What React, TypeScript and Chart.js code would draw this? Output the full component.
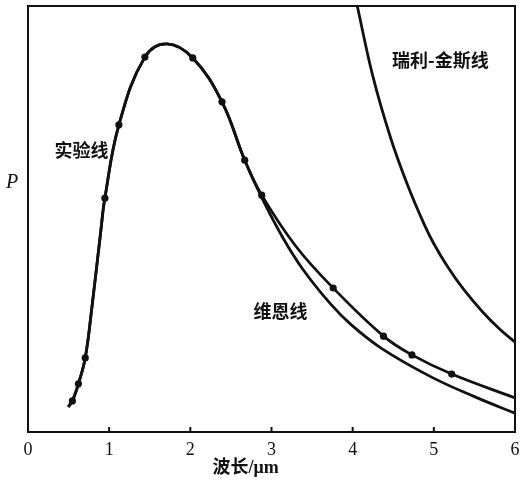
import React, { useEffect, useRef } from "react";
import { Chart, registerables } from "chart.js";
Chart.register(...registerables);

// x-axis tick values (wavelength, μm)
const xTicks = [0, 1, 2, 3, 4, 5, 6];
// experimental curve (实验线) knots
const expX = [0.495, 0.547, 0.621, 0.705, 0.779, 0.898, 0.947, 1.12, 1.44, 1.71, 2.03, 2.39, 2.67, 2.88, 3.3, 3.76, 4.38, 4.73, 5.22, 6.0];
const expY = [5.9, 7.3, 11.3, 17.4, 27.9, 47.4, 54.9, 72.1, 88.0, 91.1, 87.8, 77.5, 63.8, 55.6, 43.6, 33.8, 22.5, 18.1, 13.6, 8.0];
// measured points on the experimental curve
const dotX = [0.547, 0.621, 0.705, 0.947, 1.12, 1.44, 2.03, 2.39, 2.67, 2.88, 3.76, 4.38, 4.73, 5.22];
const dotY = [7.3, 11.3, 17.4, 54.9, 72.1, 88.0, 87.8, 77.5, 63.8, 55.6, 33.8, 22.5, 18.1, 13.6];
// Wien curve (维恩线)
const wienX = [0.495, 0.547, 0.621, 0.705, 0.779, 0.898, 0.947, 1.12, 1.44, 1.71, 2.03, 2.39, 2.67, 2.88, 3.14, 3.39, 3.73, 3.98, 4.35, 4.96, 5.5, 6.0];
const wienY = [5.9, 7.3, 11.3, 17.4, 27.9, 47.4, 54.9, 72.1, 88.0, 91.1, 87.8, 77.5, 63.8, 55.0, 45.6, 38.1, 30.0, 25.2, 19.7, 13.0, 8.3, 4.4];
// Rayleigh-Jeans curve (瑞利-金斯线)
const rjX = [4.0, 4.05, 4.25, 4.47, 4.68, 4.88, 5.0, 5.17, 5.37, 5.61, 5.82, 6.0];
const rjY = [105, 100.6, 83.4, 68.9, 57.8, 48.8, 44.2, 38.8, 33.4, 28.0, 24.0, 21.1];

const labels = [
  { text: "实验线", x: 0.66, y: 66.2 },
  { text: "瑞利-金斯线", x: 5.08, y: 87.3 },
  { text: "维恩线", x: 3.11, y: 28.4 },
];
const xTitle = "波长/μm";
const yTitle = "P";

const zip = (xs: number[], ys: number[]) => xs.map((x, i) => ({ x, y: ys[i] }));

const decor = {
  id: "decor",
  afterDraw(chart: any) {
    const { ctx, chartArea: a, scales } = chart;
    const xs = scales.x;
    const ys = scales.y;
    ctx.save();
    ctx.strokeStyle = "#111";
    ctx.lineWidth = 2;
    ctx.strokeRect(a.left, a.top, a.right - a.left, a.bottom - a.top);
    // inward tick marks
    xTicks.slice(1, -1).forEach((v) => {
      const px = xs.getPixelForValue(v);
      ctx.beginPath();
      ctx.moveTo(px, a.bottom);
      ctx.lineTo(px, a.bottom - 5);
      ctx.stroke();
    });
    ctx.fillStyle = "#111";
    ctx.textAlign = "center";
    ctx.textBaseline = "middle";
    ctx.font = "bold 18px 'Noto Sans CJK SC'";
    labels.forEach((l) => {
      ctx.fillText(l.text, xs.getPixelForValue(l.x), ys.getPixelForValue(l.y));
    });
    ctx.font = "italic 20px 'Liberation Serif'";
    ctx.fillText(yTitle, a.left - 16, ys.getPixelForValue(58.5));
    ctx.font = "bold 18px 'Liberation Serif', 'Noto Sans CJK SC'";
    ctx.fillText(xTitle, xs.getPixelForValue(2.68), a.bottom + 36);
    ctx.restore();
  },
};

export default function App() {
  const ref = useRef<HTMLCanvasElement | null>(null);
  useEffect(() => {
    document.body.style.margin = "0";
    const canvas = ref.current!;
    const lineStyle = {
      borderColor: "#111",
      borderWidth: 2.8,
      pointRadius: 0,
      fill: false,
      tension: 0.4,
      showLine: true,
    };
    const chart = new Chart(canvas, {
      type: "scatter",
      data: {
        datasets: [
          { label: "维恩线", data: zip(wienX, wienY), ...lineStyle },
          { label: "实验线", data: zip(expX, expY), ...lineStyle },
          { label: "瑞利-金斯线", data: zip(rjX, rjY), ...lineStyle },
          {
            label: "实验点",
            data: zip(dotX, dotY),
            showLine: false,
            pointRadius: 3.6,
            pointBackgroundColor: "#111",
            pointBorderColor: "#111",
            pointBorderWidth: 0,
          },
        ],
      },
      options: {
        responsive: false,
        animation: false,
        layout: { padding: { left: 28, right: 6, top: 6, bottom: 0 } },
        plugins: { legend: { display: false }, tooltip: { enabled: false } },
        scales: {
          x: {
            type: "linear",
            min: 0,
            max: 6,
            afterBuildTicks: (s: any) => {
              s.ticks = xTicks.map((v) => ({ value: v }));
            },
            afterFit: (s: any) => {
              s.height = 58;
              s.paddingLeft = 0;
              s.paddingRight = 0;
            },
            grid: { display: false, drawTicks: false },
            border: { display: false },
            ticks: {
              color: "#111",
              padding: 7,
              font: { family: "'Liberation Serif'", size: 18 },
            },
          },
          y: { type: "linear", min: 0, max: 100, display: false },
        },
      },
      plugins: [decor],
    });
    return () => chart.destroy();
  }, []);
  return <canvas ref={ref} width={521} height={490} style={{ display: "block" }} />;
}
